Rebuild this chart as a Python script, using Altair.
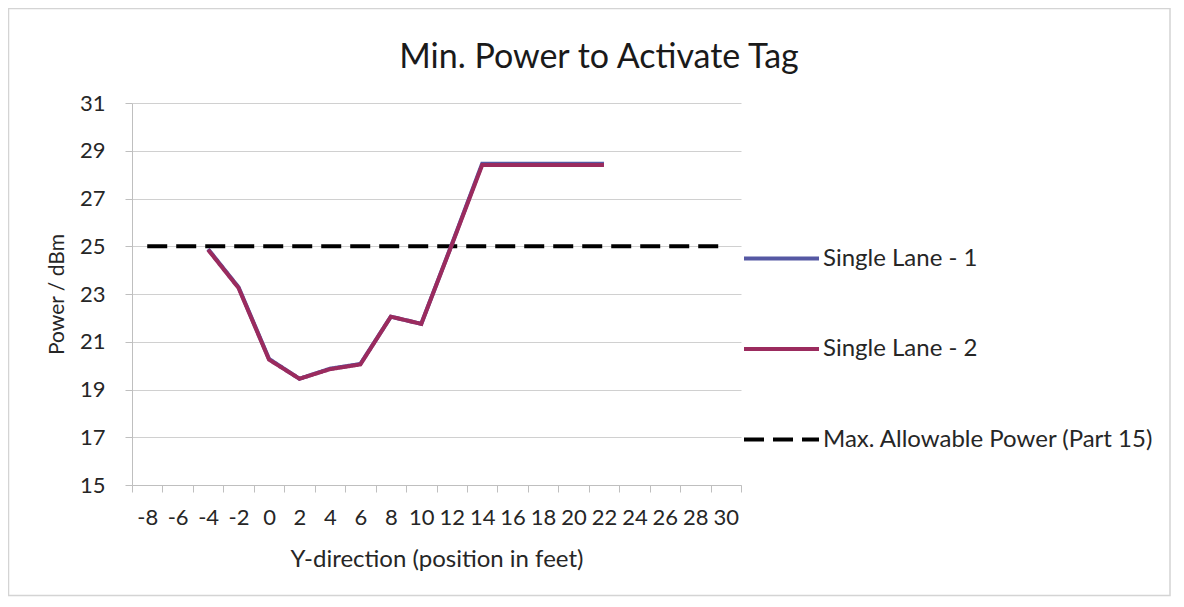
import altair as alt
import pandas as pd

# ---- data ----
positions = [-4, -2, 0, 2, 4, 6, 8, 10, 12, 14, 16, 18, 20, 22]
lane1 = [24.88, 23.28, 20.28, 19.45, 19.87, 20.07, 22.05, 21.75, 25.07, 28.46, 28.46, 28.46, 28.46, 28.46]
lane2 = [24.85, 23.25, 20.25, 19.45, 19.85, 20.05, 22.05, 21.75, 25.05, 28.4, 28.4, 28.4, 28.4, 28.4]
max_positions = list(range(-8, 31, 2))
max_power = [25] * len(max_positions)

series_names = ["Single Lane - 1", "Single Lane - 2", "Max. Allowable Power (Part 15)"]
series_colors = ["#5558a3", "#9b2b5e", "#000000"]
series_dash = [[1, 0], [1, 0], [20, 9]]

chart_title = "Min. Power to Activate Tag"

rows = []
for x, y in zip(max_positions, max_power):
    rows.append({"pos": x, "power": y, "series": series_names[2]})
for x, y in zip(positions, lane1):
    rows.append({"pos": x, "power": y, "series": series_names[0]})
for x, y in zip(positions, lane2):
    rows.append({"pos": x, "power": y, "series": series_names[1]})
df = pd.DataFrame(rows)

FONT = "Lato"
TXT = "#262626"
W, H = 609, 382

x_ticks = list(range(-9, 32, 2))
y_ticks = list(range(15, 32, 2))

legend_kw = dict(
    title=None,
    orient="none",
    legendX=610,
    legendY=116,
    symbolType="stroke",
    symbolSize=5625,
    symbolStrokeWidth=4,
    labelFontSize=24,
    labelColor=TXT,
    labelOffset=2,
    rowPadding=38.5,
    padding=0,
    labelLimit=500,
)

lines = alt.Chart(df).mark_line(strokeWidth=4, clip=False).encode(
    x=alt.X(
        "pos:Q",
        scale=alt.Scale(domain=[-9, 31], nice=False, zero=False),
        axis=alt.Axis(
            title="Y-direction (position in feet)",
            values=x_ticks,
            labelExpr="datum.value < 31 ? '' + (datum.value + 1) : ''",
            labelOffset=15.2,
            labelFlush=False,
            labelOverlap=False,
            grid=False,
            tickSize=7,
            tickColor="#bfbfbf",
            domainColor="#bfbfbf",
            labelFontSize=22,
            labelPadding=15,
            titleFontSize=24,
            titleFontWeight="normal",
            titlePadding=19,
            labelColor=TXT,
            titleColor=TXT,
        ),
    ),
    y=alt.Y(
        "power:Q",
        scale=alt.Scale(domain=[15, 31], nice=False, zero=False),
        axis=alt.Axis(
            title="Power / dBm",
            values=y_ticks,
            grid=True,
            gridColor="#d0d0d0",
            tickSize=7,
            tickColor="#bfbfbf",
            domainColor="#bfbfbf",
            labelFontSize=22,
            labelPadding=20,
            titleFontSize=21,
            titleFontWeight="normal",
            titlePadding=12,
            labelColor=TXT,
            titleColor=TXT,
        ),
    ),
    color=alt.Color(
        "series:N",
        scale=alt.Scale(domain=series_names, range=series_colors),
        legend=alt.Legend(**legend_kw),
    ),
    strokeDash=alt.StrokeDash(
        "series:N",
        scale=alt.Scale(domain=series_names, range=series_dash),
        legend=alt.Legend(**legend_kw),
    ),
)

border = alt.Chart(alt.Data(values=[{"a": 1}])).mark_rect(
    filled=False, stroke="#d4d4d4", strokeWidth=1.5, clip=False
).encode(
    x=alt.value(-123.5), x2=alt.value(1038), y=alt.value(-94.5), y2=alt.value(492.5)
)

title = alt.Chart(alt.Data(values=[{"t": chart_title}])).mark_text(
    font=FONT, fontSize=34, color="#1a1a1a", align="center", baseline="alphabetic", clip=False
).encode(
    text="t:N", x=alt.value(467), y=alt.value(-35)
)

chart = alt.layer(border, lines, title).properties(
    width=W,
    height=H,
    padding={"left": 124, "top": 95, "right": 430, "bottom": 112},
    autosize=alt.AutoSizeParams(type="none"),
).configure(font=FONT).configure_view(stroke=None).configure_axis(
    labelFont=FONT, titleFont=FONT
).configure_legend(labelFont=FONT)

chart.save("out.html", embed_options={"renderer": "svg", "actions": False})
